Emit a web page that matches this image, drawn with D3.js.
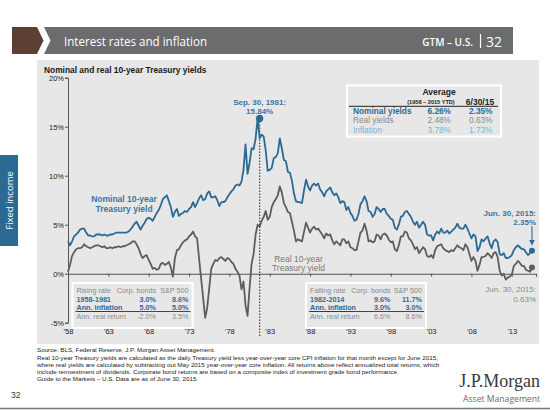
<!DOCTYPE html>
<html><head><meta charset="utf-8">
<script src="https://cdn.jsdelivr.net/npm/d3@7/dist/d3.min.js"></script>
<style>
html,body{margin:0;padding:0;background:#fff;}
svg{display:block;font-family:"Liberation Sans",Arial,sans-serif;}
</style></head>
<body>
<svg id="c" width="550" height="410"></svg>
<script>
// ---- DATA (quarterly, starting 1958 Q1; last point = Jun 30, 2015) ----
const startYear = 1958;
const stepPerYear = 4;
const nominalYield = [
 3.3,2.9,3.3,3.8, 4.0,4.2,4.5,4.6, 4.6,4.2,3.9,3.9, 3.8,3.8,4.0,4.0, 4.0,3.9,4.0,3.9,
 3.9,4.0,4.0,4.1, 4.2,4.2,4.2,4.2, 4.2,4.2,4.3,4.5, 4.8,5.1,5.3,4.9, 4.5,4.9,5.2,5.6,
 5.7,5.6,5.4,5.8, 6.2,6.5,7.0,7.6, 7.8,8.0,7.4,6.8, 5.8,6.3,6.6,5.9, 6.1,6.2,6.4,6.3,
 6.6,6.8,7.3,6.8, 7.2,7.7,8.0,7.5, 7.6,8.2,8.4,7.8, 7.8,7.9,7.5,6.9, 7.3,7.3,7.4,7.8,
 8.1,8.4,8.6,9.0, 9.1,9.0,9.4,10.6, 13.2,10.2,11.3,12.8, 12.7,13.8,15.84,13.8, 14.2,14.0,12.6,10.5,
 10.6,10.8,11.8,11.9, 12.3,13.8,12.8,11.6, 11.5,10.4,10.3,9.5, 8.2,7.4,7.3,7.3, 7.2,8.5,9.6,8.9,
 8.5,9.0,9.2,9.0, 9.2,8.6,8.3,7.9, 8.4,8.6,8.8,8.3, 8.0,8.2,7.8,7.2, 7.4,7.3,6.5,6.8,
 6.2,5.9,5.4,5.5, 6.1,7.1,7.4,7.9, 7.4,6.4,6.3,5.8, 6.1,6.8,6.6,6.3, 6.6,6.6,6.1,5.9,
 5.6,5.5,4.7,4.5, 5.0,5.8,5.9,6.3, 6.4,6.1,5.8,5.3, 5.0,5.3,4.7,5.0, 5.3,5.0,4.0,3.9,
 3.9,3.4,4.0,4.3, 4.1,4.6,4.2,4.2, 4.4,4.1,4.3,4.5, 4.7,5.1,4.7,4.6, 4.6,5.0,4.6,4.1,
 3.6,4.0,3.8,2.3, 2.7,3.5,3.3,3.6, 3.8,3.1,2.6,3.3, 3.5,3.2,2.0,1.9, 2.1,1.6,1.6,1.7,
 1.9,2.4,2.7,2.9, 2.7,2.5,2.5,2.2, 1.9,2.1,2.35
];
const realYield = [
 0.2,0.9,1.8,2.2, 2.5,2.6,2.6,2.7, 3.0,2.8,2.7,2.6, 2.7,2.8,2.9,2.9, 2.8,2.7,2.8,2.6,
 2.6,2.7,2.6,2.7, 2.7,2.8,2.7,2.8, 2.8,2.9,3.0,3.1, 3.3,3.3,3.0,2.6, 2.0,1.6,1.8,1.9,
 1.4,1.0,0.5,0.6, 0.4,0.5,1.0,1.1, 0.9,1.0,1.2,0.6, -0.3,1.6,2.4,2.5, 2.9,3.2,3.4,3.5,
 3.8,4.0,4.3,3.8, 3.6,1.5,-0.5,-2.5, -4.5,-3.5,-1.5,0.5, 1.0,1.4,1.3,1.6, 1.7,1.5,1.3,1.6,
 1.5,1.2,1.0,0.5, 0.2,-0.2,-1.6,-0.8, -3.2,-4.3,-1.5,1.0, 2.0,4.0,5.0,4.8, 5.4,5.8,6.4,5.5,
 5.8,6.8,7.3,7.6, 8.0,8.9,8.3,7.2, 6.8,6.3,6.2,5.3, 4.4,3.3,3.5,3.4, 3.3,4.3,5.2,4.7,
 4.2,4.6,4.8,4.5, 4.6,4.3,4.0,3.6, 4.1,3.9,4.0,3.4, 3.0,3.3,3.1,2.9, 3.5,3.5,3.1,3.3,
 2.7,2.6,2.4,2.4, 3.3,4.2,4.4,5.1, 4.4,3.3,3.4,3.2, 3.3,4.0,3.9,3.5, 4.0,4.1,3.9,3.5,
 3.2,3.3,2.5,2.3, 2.9,3.8,3.8,4.3, 4.2,3.6,3.4,3.0, 2.5,2.7,2.1,2.4, 2.7,2.5,1.8,1.7,
 1.9,1.6,2.4,2.8, 2.9,3.0,2.6,2.4, 2.3,2.2,2.4,2.3, 2.6,2.9,2.7,2.6, 2.4,3.0,2.7,2.0,
 1.3,1.7,1.3,0.3, 0.9,1.7,1.7,1.8, 2.1,1.9,1.6,2.1, 2.2,1.7,0.3,-0.2, 0.0,-0.6,-0.4,-0.3,
 -0.1,0.8,1.0,1.3, 1.1,0.8,0.8,0.4, 0.3,0.2,0.63
];
const yTicks = [-5,0,5,10,15,20];
const xTickYears = [1958,1963,1968,1973,1978,1983,1988,1993,1998,2003,2008,2013];
const peak = {year:1981.75, value:15.84, label1:"Sep. 30, 1981:", label2:"15.84%"};
const lastDate = 2015.5;
const avgHeader = ["Average","(1958 – 2015 YTD)","6/30/15"];
const avgRows = [
  {label:"Nominal yields", avg:"6.26%", cur:"2.35%", color:"#2f6a94", bold:true},
  {label:"Real yields", avg:"2.48%", cur:"0.63%", color:"#8a8a8a", bold:false},
  {label:"Inflation", avg:"3.78%", cur:"1.73%", color:"#7fb2d1", bold:false}
];
const risingTable = [
  ["Rising rate","Corp. bonds","S&P 500"],
  ["1958-1981","3.0%","8.6%"],
  ["Ann. inflation","5.0%","5.0%"],
  ["Ann. real return","-2.0%","3.5%"]
];
const fallingTable = [
  ["Falling rate","Corp. bonds","S&P 500"],
  ["1982-2014","9.6%","11.7%"],
  ["Ann. inflation","3.0%","3.0%"],
  ["Ann. real return","6.6%","8.6%"]
];
const footnotes = [
  "Source: BLS, Federal Reserve, J.P. Morgan Asset Management.",
  "Real 10-year Treasury yields are calculated as the daily Treasury yield less year-over-year core CPI inflation for that month except for June 2015,",
  "where real yields are calculated by subtracting out May 2015 year-over-year core inflation. All returns above reflect annualized total returns, which",
  "include reinvestment of dividends. Corporate bond returns are based on a composite index of investment grade bond performance.",
  "Guide to the Markets – U.S. Data are as of June 30, 2015."
];

// ---- DRAW ----
const svg = d3.select("#c");
const BLUE = "#2b6a93", GRAY = "#5d5d5d";

// header
svg.append("path").attr("d","M12,27 L37,27 L43.5,40.5 L37,54 L12,54 Z").attr("fill","#5b4033");
svg.append("path").attr("d","M44,27 L513,27 L513,54 L44,54 L50.5,40.5 Z").attr("fill","#6b6c6e");
svg.append("text").attr("x",64).attr("y",46).attr("fill","#fff")
  .attr("textLength",143).attr("lengthAdjust","spacingAndGlyphs")
  .style("font-family","'Open Sans',sans-serif").style("font-size","13.5px").text("Interest rates and inflation");
svg.append("text").attr("x",473).attr("y",46).attr("text-anchor","end").attr("fill","#fff")
  .style("font-family","'Open Sans',sans-serif").style("font-size","10px").style("font-weight","600").text("GTM – U.S.");
svg.append("line").attr("x1",480.5).attr("x2",480.5).attr("y1",34).attr("y2",48).attr("stroke","#fff").attr("stroke-width",1.2);
svg.append("text").attr("x",502).attr("y",47).attr("text-anchor","end").attr("fill","#fff")
  .style("font-family","'Open Sans',sans-serif").style("font-size","14px").text("32");

// side tab
svg.append("rect").attr("x",0).attr("y",155).attr("width",18).attr("height",91).attr("fill",BLUE);
svg.append("text").attr("transform","translate(12.5,200.5) rotate(-90)").attr("text-anchor","middle")
  .attr("fill","#fff").style("font-family","'Open Sans',sans-serif").style("font-size","9.5px").text("Fixed income");

// panel
svg.append("rect").attr("x",37).attr("y",60).attr("width",502).attr("height",284).attr("fill","#e7e7e7");
svg.append("text").attr("x",44).attr("y",72.5).style("font-size","8.4px").style("font-weight","bold")
  .attr("fill","#1a1a1a").text("Nominal and real 10-year Treasury yields");

// scales
const x = d3.scaleLinear().domain([1958, 2016]).range([68, 536]);
const y = d3.scaleLinear().domain([-5, 20]).range([322.7, 77.7]);
const dateOf = i => startYear + i / stepPerYear;

// y axis
const yAxis = svg.append("g").attr("transform","translate(68,0)")
  .call(d3.axisLeft(y).tickValues(yTicks).tickSize(3).tickFormat(d => d + "%"));
yAxis.select(".domain").attr("stroke","#555");
yAxis.selectAll(".tick line").attr("stroke","#555");
yAxis.selectAll("text").style("font-size","7.5px").attr("fill","#222").attr("x",-4).style("font-family","'Liberation Sans',Arial,sans-serif");

// zero line with ticks
const x0 = svg.append("g").attr("transform",`translate(0,${y(0)})`)
  .call(d3.axisBottom(x).tickValues(xTickYears).tickSize(3).tickFormat(""));
x0.select(".domain").attr("stroke","#555").attr("stroke-width",1.1);
x0.selectAll(".tick line").attr("stroke","#555");
// x labels at bottom
const xl = svg.append("g").attr("transform","translate(0,326)")
  .call(d3.axisBottom(x).tickValues(xTickYears).tickSize(0).tickFormat(d => "'" + String(d).slice(2)));
xl.select(".domain").remove();
xl.selectAll("text").style("font-size","7.5px").attr("fill","#222").style("font-family","'Liberation Sans',Arial,sans-serif");

// dotted line from peak
svg.append("line").attr("x1",x(peak.year)).attr("x2",x(peak.year)).attr("y1",y(peak.value)).attr("y2",336)
  .attr("stroke","#444").attr("stroke-width",1.2).attr("stroke-dasharray","1.5,1.5");

// lines
const line = d3.line().x((d,i) => x(dateOf(i))).y(d => y(d));
svg.append("path").datum(realYield).attr("d",line).attr("fill","none").attr("stroke",GRAY).attr("stroke-width",1.8).attr("stroke-linejoin","round");
svg.append("path").datum(nominalYield).attr("d",line).attr("fill","none").attr("stroke",BLUE).attr("stroke-width",1.8).attr("stroke-linejoin","round");

// markers
svg.append("circle").attr("cx",x(peak.year)).attr("cy",y(peak.value)).attr("r",3.6).attr("fill",BLUE);
svg.append("circle").attr("cx",x(lastDate)).attr("cy",y(nominalYield[nominalYield.length-1])).attr("r",3).attr("fill",BLUE);
svg.append("circle").attr("cx",x(lastDate)).attr("cy",y(realYield[realYield.length-1])).attr("r",3).attr("fill",GRAY);

// annotations
function twoLine(xp, y1, t1, t2, color, anchor, bold, size){
  const g = svg.append("g").attr("fill",color).style("font-size",size+"px").style("font-weight",bold?"bold":"normal").attr("text-anchor",anchor);
  g.append("text").attr("x",xp).attr("y",y1).text(t1);
  g.append("text").attr("x",xp).attr("y",y1+9.5).text(t2);
}
twoLine(x(peak.year), 104.5, peak.label1, peak.label2, "#3d76a0", "middle", true, 8);
twoLine(124, 202, "Nominal 10-year", "Treasury yield", "#3d76a0", "middle", true, 8.5);
twoLine(298.5, 261.5, "Real 10-year", "Treasury yield", "#7a7a7a", "middle", false, 8.5);
twoLine(536, 215.5, "Jun. 30, 2015:", "2.35%", "#3d76a0", "end", true, 8);
twoLine(536, 292, "Jun. 30, 2015:", "0.63%", "#8a8a8a", "end", false, 8);

// arrow
svg.append("defs").append("marker").attr("id","ah").attr("viewBox","0 0 10 10").attr("refX",8).attr("refY",5)
  .attr("markerWidth",5).attr("markerHeight",5).attr("orient","auto")
  .append("path").attr("d","M0,0 L10,5 L0,10 Z").attr("fill","#2b6a93");
svg.append("line").attr("x1",x(lastDate)).attr("x2",x(lastDate)).attr("y1",226).attr("y2",244.5)
  .attr("stroke",BLUE).attr("stroke-width",1.1).attr("marker-end","url(#ah)");

// average table
const ag = svg.append("g");
ag.append("rect").attr("x",347).attr("y",85.5).attr("width",154).attr("height",51).attr("fill","#e7e7e7").attr("stroke","#fff").attr("stroke-width",2);
ag.append("text").attr("x",439).attr("y",95).attr("text-anchor","middle").style("font-size","8.5px").style("font-weight","bold").attr("fill","#222").text(avgHeader[0]);
ag.append("text").attr("x",431).attr("y",104).attr("text-anchor","middle").style("font-size","5.6px").style("font-weight","bold").attr("fill","#222").text(avgHeader[1]);
ag.append("text").attr("x",480).attr("y",104.5).attr("text-anchor","middle").style("font-size","8.5px").style("font-weight","bold").attr("fill","#222").text(avgHeader[2]);
ag.append("line").attr("x1",349).attr("x2",498).attr("y1",106.3).attr("y2",106.3).attr("stroke","#222").attr("stroke-width",1);
avgRows.forEach((r,i) => {
  const yy = 114 + i*9.3;
  const t = ag.append("g").attr("fill",r.color).style("font-size","8.3px").style("font-weight",r.bold?"bold":"normal");
  t.append("text").attr("x",353).attr("y",yy).text(r.label);
  t.append("text").attr("x",451).attr("y",yy).attr("text-anchor","end").text(r.avg);
  t.append("text").attr("x",492.5).attr("y",yy).attr("text-anchor","end").text(r.cur);
});

// return tables
function retTable(data, bx, bw, c1, c2){
  const g = svg.append("g").style("font-size","7.2px");
  g.append("rect").attr("x",bx).attr("y",283).attr("width",bw).attr("height",45).attr("fill","#e7e7e7").attr("stroke","#fff").attr("stroke-width",2);
  const ys = [293.2, 301.7, 310, 318.6];
  const styles = [
    {fill:"#8a8a8a", w:"normal"},
    {fill:"#2f6a94", w:"bold"},
    {fill:"#2f6a94", w:"bold"},
    {fill:"#8a8a8a", w:"normal"}
  ];
  data.forEach((row,i) => {
    const s = styles[i];
    const lab = g.append("text").attr("x",bx+4).attr("y",ys[i]).attr("fill",s.fill).style("font-weight",s.w).text(row[0]);
    if(i===2) lab.style("text-decoration","underline");
    g.append("text").attr("x",c1).attr("y",ys[i]).attr("text-anchor","end").attr("fill",s.fill).style("font-weight",s.w).text(row[1]);
    g.append("text").attr("x",c2).attr("y",ys[i]).attr("text-anchor","end").attr("fill",s.fill).style("font-weight",s.w).text(row[2]);
  });
  g.append("line").attr("x1",bx+3).attr("x2",bx+bw-2).attr("y1",311.5).attr("y2",311.5).attr("stroke","#333").attr("stroke-width",0.9);
}
retTable(risingTable, 72.5, 120, 156, 188.5);
retTable(fallingTable, 306, 120, 390.5, 422);

// footnotes
const fg = svg.append("g").style("font-size","6.25px").attr("fill","#222");
footnotes.forEach((t,i) => fg.append("text").attr("x",37).attr("y",351.5 + i*7.2 + (i>0?0.8:0)).text(t));

// logo
svg.append("text").attr("x",540).attr("y",387).attr("text-anchor","end").attr("fill","#3a3a3a")
  .style("font-family","'Liberation Serif','DejaVu Serif',serif").style("font-size","18px").text("J.P.Morgan");
svg.append("text").attr("x",540).attr("y",401.5).attr("text-anchor","end").attr("fill","#6a6a6a")
  .style("font-family","'Open Sans',sans-serif").style("font-size","8.6px").text("Asset Management");
svg.append("text").attr("x",11).attr("y",398).attr("fill","#333").style("font-size","8.5px").text("32");
svg.append("line").attr("x1",0).attr("x2",550).attr("y1",408.5).attr("y2",408.5).attr("stroke","#777").attr("stroke-width",1.5);
</script>
</body></html>
